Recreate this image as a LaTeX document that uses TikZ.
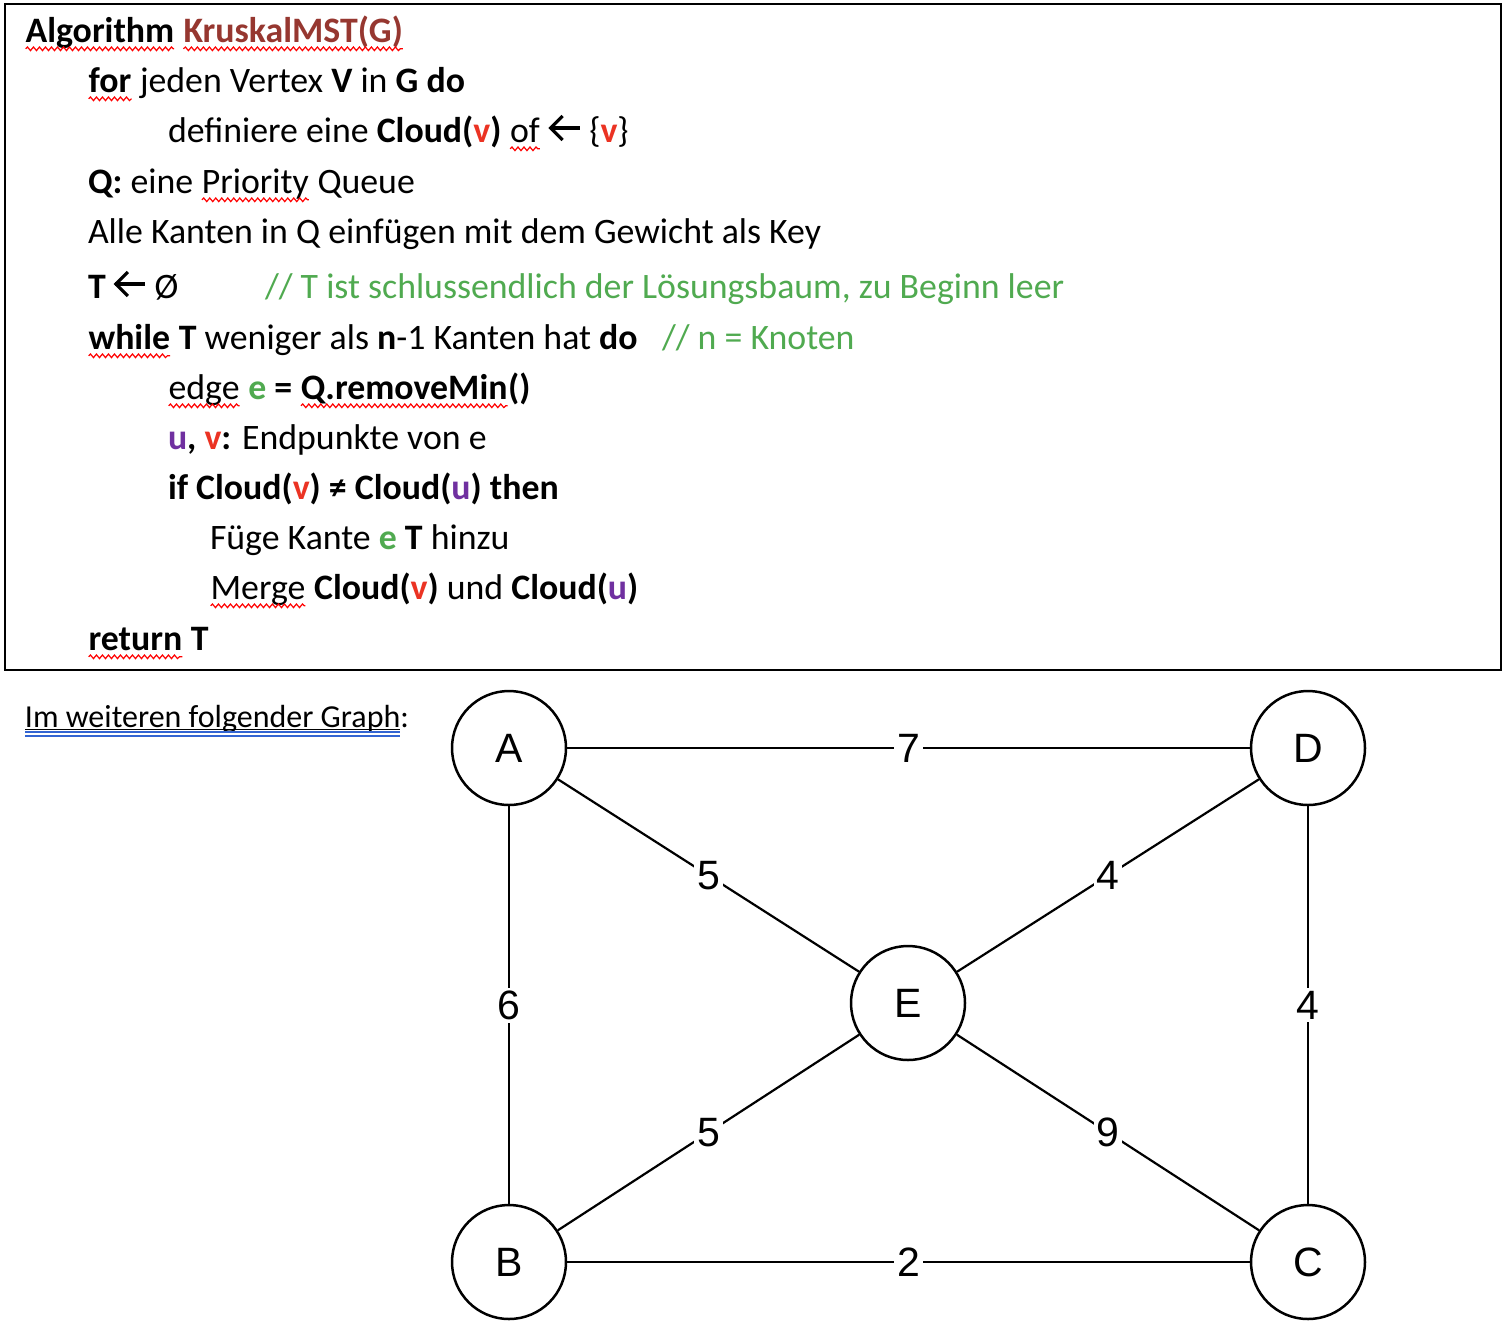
\documentclass[tikz,border=0pt]{standalone}
\usepackage{fontspec}
\setmainfont{Carlito}
\newfontfamily\arialf{Liberation Sans}
\usetikzlibrary{decorations.pathmorphing}
\definecolor{kbrown}{RGB}{150,55,48}
\definecolor{vred}{RGB}{235,51,35}
\definecolor{upurple}{RGB}{112,48,160}
\definecolor{cgreen}{RGB}{80,170,80}
\definecolor{ublue}{RGB}{50,100,210}
\newcommand\mainsz{\fontsize{17.9pt}{22pt}\selectfont}
\tikzset{
  spell/.style={draw=red,line width=0.6pt,decorate,decoration={snake,amplitude=0.9pt,segment length=3pt}},
  txt/.style={anchor=base west,inner sep=0pt,outer sep=0pt,font=\mainsz},
  captxt/.style={anchor=base west,inner sep=0pt,outer sep=0pt,font=\fontsize{16pt}{20pt}\selectfont},
  vtx/.style={circle,draw,line width=1.25pt,minimum size=57pt,inner sep=0pt,font=\arialf\fontsize{20.5pt}{24pt}\selectfont},
  edg/.style={line width=1.1pt},
  lbl/.style={fill=white,inner sep=1.5pt,font=\arialf\fontsize{20.5pt}{24pt}\selectfont},
}
\newcommand\wav[1]{\tikz[baseline=(wv.base)]{\node[inner sep=0pt,outer sep=0pt,anchor=base](wv){#1};\draw[spell] ([yshift=-3.4pt]wv.base west) -- ([yshift=-3.4pt]wv.base east);}}
\newcommand\larr{\tikz[baseline=0pt]{\draw[line width=1.6pt] (0.8pt,7pt) -- (15.5pt,7pt);\draw[line width=1.6pt,line join=miter] (7pt,13pt) -- (1pt,7pt) -- (7pt,1pt);}}
\begin{document}
\begin{tikzpicture}[x=0.5pt,y=-0.5pt]
\useasboundingbox (0,0) rectangle (1508,1328);
\draw[line width=1pt] (5,4) rectangle (1501,670);
% algorithm text
\node[txt] (l1) at (25,42) {\textbf{\wav{Algorithm}} \textbf{\color{kbrown}\wav{KruskalMST(G)}}};
\node[txt] (l2) at (88,92) {\textbf{\wav{for}} jeden Vertex \textbf{V} in \textbf{G do}};
\node[txt] (l3) at (168,142) {definiere eine \textbf{Cloud(\textcolor{vred}{v})} \wav{of} \larr\ \{\textcolor{vred}{\textbf{v}}\}};
\node[txt] (l4) at (88,193) {\textbf{Q:} eine \wav{Priority} Queue};
\node[txt] (l5) at (88,243) {Alle Kanten in Q einfügen mit dem Gewicht als Key};
\node[txt] (l6) at (88,298) {\textbf{T} \larr\ Ø};
\node[txt,text=cgreen] (c6) at (265,298) {// T ist schlussendlich der Lösungsbaum, zu Beginn leer};
\node[txt] (l7) at (88,349) {\textbf{\wav{while} T} weniger als \textbf{n}-1 Kanten hat \textbf{do}};
\node[txt,text=cgreen] (c7) at (662,349) {// n = Knoten};
\node[txt] (l8) at (168,399) {\wav{edge} \textbf{\textcolor{cgreen}{e} = \wav{Q.removeMin}()}};
\node[txt] (l9) at (168,449) {\textbf{\textcolor{upurple}{u}, \textcolor{vred}{v}:} Endpunkte von e};
\node[txt] (l10) at (168,499) {\textbf{if Cloud(\textcolor{vred}{v}) ≠ Cloud(\textcolor{upurple}{u}) then}};
\node[txt] (l11) at (210,549) {Füge Kante \textbf{\textcolor{cgreen}{e} T} hinzu};
\node[txt] (l12) at (210,599) {\wav{Merge} \textbf{Cloud(\textcolor{vred}{v})} und \textbf{Cloud(\textcolor{upurple}{u})}};
\node[txt] (l13) at (88,650) {\textbf{\wav{return} T}};
% graph caption
\node[captxt] (cap) at (25,727) {Im weiteren folgender Graph};
\node[captxt] (colon) at (cap.base east) {:};
\draw[line width=0.5pt] ([yshift=-1.2pt]cap.base west) -- ([yshift=-1.2pt]cap.base east);
\draw[ublue,line width=0.9pt] ([yshift=-2.6pt]cap.base west) -- ([yshift=-2.6pt]cap.base east);
\draw[ublue,line width=0.9pt] ([yshift=-4.4pt]cap.base west) -- ([yshift=-4.4pt]cap.base east);
% graph
\node[vtx] (A) at (509,748) {A};
\node[vtx] (D) at (1308,748) {D};
\node[vtx] (E) at (908,1003) {E};
\node[vtx] (B) at (509,1262) {B};
\node[vtx] (C) at (1308,1262) {C};
\draw[edg] (A) -- node[lbl]{7} (D);
\draw[edg] (A) -- node[lbl]{5} (E);
\draw[edg] (D) -- node[lbl]{4} (E);
\draw[edg] (A) -- node[lbl]{6} (B);
\draw[edg] (D) -- node[lbl]{4} (C);
\draw[edg] (B) -- node[lbl]{5} (E);
\draw[edg] (E) -- node[lbl]{9} (C);
\draw[edg] (B) -- node[lbl]{2} (C);
\end{tikzpicture}
\end{document}
